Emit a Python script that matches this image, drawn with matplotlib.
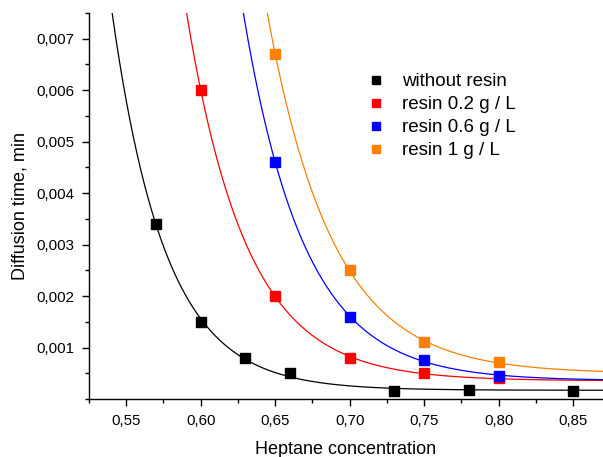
import numpy as np
import matplotlib
matplotlib.use("Agg")
import matplotlib.pyplot as plt
from matplotlib.ticker import FuncFormatter, MultipleLocator

plt.rcParams['font.family'] = ['Liberation Sans', 'DejaVu Sans']

x_black = [0.57, 0.60, 0.63, 0.66, 0.73, 0.78, 0.85]
y_black = [0.0034, 0.0015, 0.0008, 0.0005, 0.00016, 0.00018, 0.00016]
x_red = [0.60, 0.65, 0.70, 0.75, 0.80]
y_red = [0.0060, 0.0020, 0.0008, 0.0005, 0.0004]
x_blue = [0.65, 0.70, 0.75, 0.80]
y_blue = [0.0046, 0.0016, 0.00075, 0.00045]
x_orange = [0.65, 0.70, 0.75, 0.80]
y_orange = [0.0067, 0.0025, 0.0011, 0.00072]

labels = ["without resin", "resin 0.2 g / L", "resin 0.6 g / L", "resin 1 g / L"]
colors = ["black", "#ff0000", "#0000ff", "#ff8000"]


def fit_exp(x, y):
    """Least-squares fit of y = y0 + A*exp(-x/t) (grid over t)."""
    x = np.asarray(x); y = np.asarray(y)
    best = None
    for t in np.linspace(0.005, 0.1, 2000):
        M = np.column_stack([np.ones_like(x), np.exp(-x / t)])
        coef, *_ = np.linalg.lstsq(M, y, rcond=None)
        r = np.sum((M @ coef - y) ** 2)
        if best is None or r < best[0]:
            best = (r, t, coef)
    _, t, coef = best
    return lambda xx: coef[0] + coef[1] * np.exp(-xx / t)


fig = plt.figure(figsize=(6.03, 4.57), dpi=100)
ax = fig.add_axes([89 / 603, 1 - 399 / 457, 1 - 89 / 603, (399 - 13) / 457])

series = [(x_black, y_black), (x_red, y_red), (x_blue, y_blue), (x_orange, y_orange)]
xx = np.linspace(0.525, 0.87, 600)
handles = []
for (xs, ys), c, lab in zip(series, colors, labels):
    f = fit_exp(xs, ys)
    ax.plot(xx, f(xx), color=c, lw=0.9, zorder=2)
    h, = ax.plot(xs, ys, 's', color=c, ms=6.5, mec=c, label=lab, zorder=3, clip_on=False)
    handles.append(h)

ax.set_xlim(0.525, 0.87)
ax.set_ylim(0, 0.0075)

ax.xaxis.set_major_locator(MultipleLocator(0.05))
ax.xaxis.set_minor_locator(MultipleLocator(0.025))
ax.set_yticks([0.001, 0.002, 0.003, 0.004, 0.005, 0.006, 0.007])
ax.yaxis.set_minor_locator(MultipleLocator(0.0005))

ax.xaxis.set_major_formatter(FuncFormatter(lambda v, p: f"{v:.2f}".replace('.', ',')))
ax.yaxis.set_major_formatter(FuncFormatter(lambda v, p: f"{v:.3f}".replace('.', ',')))

ax.tick_params(which='major', direction='out', length=5, width=1, labelsize=10.8, pad=5.5)
ax.tick_params(which='minor', direction='out', length=3, width=1)

for s in ['top', 'right']:
    ax.spines[s].set_visible(False)
for s in ['left', 'bottom']:
    ax.spines[s].set_linewidth(1.0)

ax.set_xlabel("Heptane concentration", fontsize=13, labelpad=10)
ax.set_ylabel("Diffusion time, min", fontsize=13, labelpad=6)

leg = ax.legend(handles=handles, loc='upper left', bbox_to_anchor=(0.529, 0.864),
                frameon=False, fontsize=13.5, handlelength=0.8, handletextpad=1.0,
                labelspacing=0.32, markerscale=0.85, borderaxespad=0)

fig.savefig("out.png", dpi=100)
